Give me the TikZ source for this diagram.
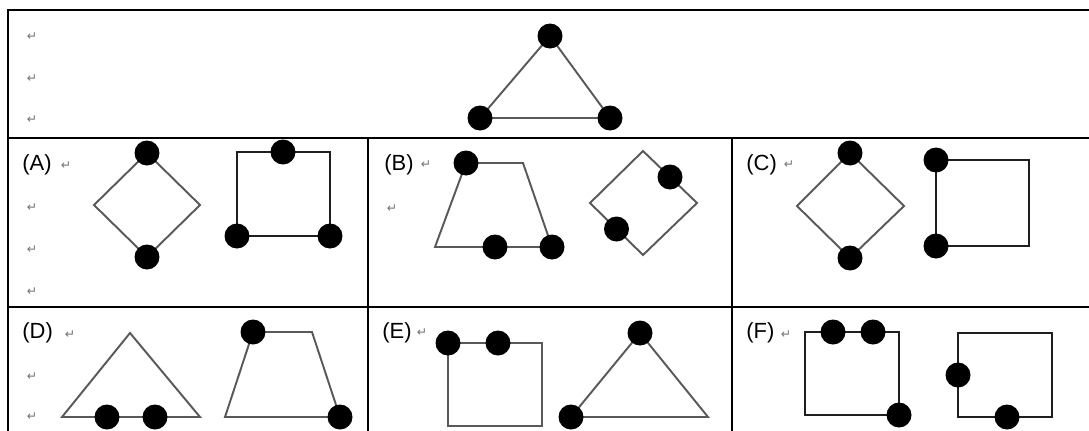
\documentclass[tikz,border=0pt]{standalone}
\usepackage{fontspec}
\setmainfont{Liberation Sans}
\newfontfamily\markfont{DejaVu Sans}
\usepackage{tikz}
\usetikzlibrary{positioning, calc}

\begin{document}
\begin{tikzpicture}[
    x=0.02cm, y=-0.02cm,
    dot/.style = {circle, fill=black, inner sep=0pt, minimum size=5mm},
    shapeline/.style = {draw=black!65, line width=1.1pt, line join=miter},
    boxline/.style = {draw=black!88, line width=1.4pt, line join=miter},
    frameline/.style = {draw=black, line width=1.4pt},
    optlabel/.style = {anchor=west, inner sep=0pt, font=\fontsize{12.5}{14}\selectfont},
    retmark/.style = {inner sep=0pt, text=black!55, font=\markfont\fontsize{7}{8}\selectfont}
]

\useasboundingbox (0,0) rectangle (1089,430);
\clip (0,0) rectangle (1089,430);

% table frame
\draw[frameline] (8,440) -- (8,10) -- (1100,10);
\draw[frameline] (8,138) -- (1100,138);
\draw[frameline] (8,307) -- (1100,307);
\draw[frameline] (368,138) -- (368,440);
\draw[frameline] (732,138) -- (732,440);

% return marks
\foreach \y in {37, 79, 120, 208, 250, 292, 377, 417}
    \node [retmark] at (32,\y) {↵};
\node [retmark] (ma) at (66,166) {↵};
\node [retmark] (mb) at (426,165) {↵};
\node [retmark] (mb2) at (392,209) {↵};
\node [retmark] (mc) at (789,165) {↵};
\node [retmark] (md) at (70,335) {↵};
\node [retmark] (me) at (422,333) {↵};
\node [retmark] (mf) at (786,335) {↵};

% option labels
\node [optlabel] (la) at (22,165) {(A)};
\node [optlabel] (lb) at (384,165) {(B)};
\node [optlabel] (lc) at (746,165) {(C)};
\node [optlabel] (ld) at (22,333) {(D)};
\node [optlabel] (le) at (382,333) {(E)};
\node [optlabel] (lf) at (746,333) {(F)};

% given figure
\coordinate (t1) at (550,36);
\coordinate (t2) at (610,118);
\coordinate (t3) at (480,118);
\draw[shapeline] (t1) -- (t2) -- (t3) -- cycle;
\node [dot] (td1) at (t1) {};
\node [dot] (td2) at (t2) {};
\node [dot] (td3) at (t3) {};

% (A)
\coordinate (a1) at (147,153);
\coordinate (a2) at (200,205);
\coordinate (a3) at (147,257);
\coordinate (a4) at (94,205);
\draw[shapeline] (a1) -- (a2) -- (a3) -- (a4) -- cycle;
\node [dot] (ad1) at (a1) {};
\node [dot] (ad2) at (a3) {};
\draw[boxline] (237,152) rectangle (330,236);
\node [dot] (ad3) at (283,152) {};
\node [dot] (ad4) at (237,236) {};
\node [dot] (ad5) at (330,236) {};

% (B)
\coordinate (b1) at (466,163);
\coordinate (b2) at (523,163);
\coordinate (b3) at (552,247);
\coordinate (b4) at (435,247);
\draw[shapeline] (b1) -- (b2) -- (b3) -- (b4) -- cycle;
\node [dot] (bd1) at (b1) {};
\node [dot] (bd2) at (495,247) {};
\node [dot] (bd3) at (b3) {};
\coordinate (b5) at (643,151);
\coordinate (b6) at (697,203);
\coordinate (b7) at (643,255);
\coordinate (b8) at (590,203);
\draw[shapeline] (b5) -- (b6) -- (b7) -- (b8) -- cycle;
\node [dot] (bd4) at ($(b5)!0.5!(b6)$) {};
\node [dot] (bd5) at ($(b7)!0.5!(b8)$) {};

% (C)
\coordinate (c1) at (850,153);
\coordinate (c2) at (904,206);
\coordinate (c3) at (850,258);
\coordinate (c4) at (797,206);
\draw[shapeline] (c1) -- (c2) -- (c3) -- (c4) -- cycle;
\node [dot] (cd1) at (c1) {};
\node [dot] (cd2) at (c3) {};
\draw[boxline] (936,160) rectangle (1029,246);
\node [dot] (cd3) at (936,160) {};
\node [dot] (cd4) at (936,246) {};

% (D)
\coordinate (d1) at (130,333);
\coordinate (d2) at (200,417);
\coordinate (d3) at (62,417);
\draw[shapeline] (d1) -- (d2) -- (d3) -- cycle;
\node [dot] (dd1) at (107,417) {};
\node [dot] (dd2) at (155,417) {};
\coordinate (d4) at (253,332);
\coordinate (d5) at (312,332);
\coordinate (d6) at (340,417);
\coordinate (d7) at (225,417);
\draw[shapeline] (d4) -- (d5) -- (d6) -- (d7) -- cycle;
\node [dot] (dd3) at (d4) {};
\node [dot] (dd4) at (d6) {};

% (E)
\draw[shapeline] (448,343) rectangle (542,426);
\node [dot] (ed1) at (448,343) {};
\node [dot] (ed2) at (498,343) {};
\coordinate (e1) at (640,333);
\coordinate (e2) at (708,417);
\coordinate (e3) at (571,417);
\draw[shapeline] (e1) -- (e2) -- (e3) -- cycle;
\node [dot] (ed3) at (e1) {};
\node [dot] (ed4) at (e3) {};

% (F)
\draw[boxline] (805,332) rectangle (899,415);
\node [dot] (fd1) at (833,332) {};
\node [dot] (fd2) at (873,332) {};
\node [dot] (fd3) at (899,415) {};
\draw[boxline] (958,333) rectangle (1052,417);
\node [dot] (fd4) at (958,375) {};
\node [dot] (fd5) at (1007,417) {};

\end{tikzpicture}
\end{document}
